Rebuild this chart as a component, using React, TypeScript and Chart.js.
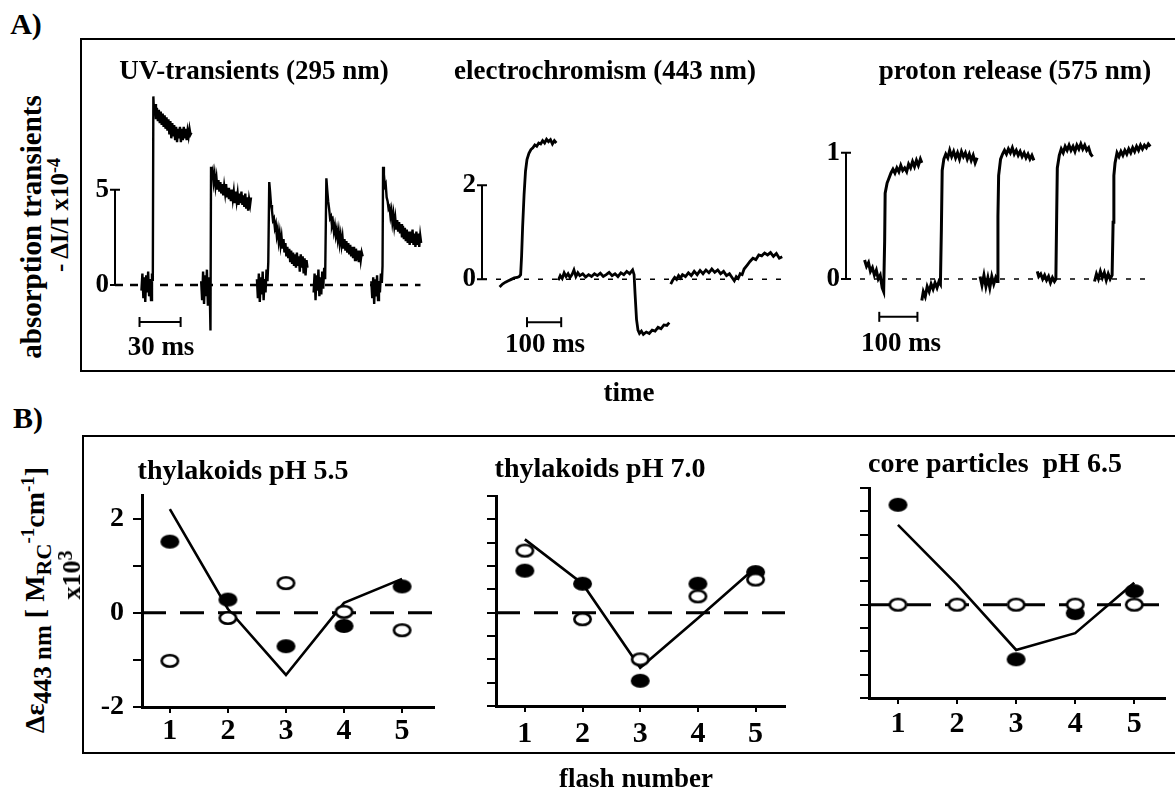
import React, { useEffect, useRef } from "react";
import { Chart, registerables } from "chart.js";
Chart.register(...registerables);

type P = [number, number];
const FONT = "'Liberation Serif', 'Times New Roman', Times, serif";

// ---------- Panel A1: UV-transients (295 nm), x in ms, y in -ΔI/I x10^-4 ----------
const uvFlash1: P[] = [
  [19.3,-0.3],[20.0,0.6],[20.7,-0.7],[21.4,0.4],[22.1,-0.9],[22.8,0.5],[23.5,-0.4],[24.2,0.7],[24.9,-0.6],[25.6,0.3],[26.3,-0.8],[27.0,0.6],[27.6,0.2],
  [28.0,9.9],[28.5,9.0],[29.2,9.5],[29.9,8.7],[30.6,9.3],[31.3,8.6],[32.0,9.2],[32.7,8.5],[33.4,9.1],[34.1,8.4],[34.8,9.0],[35.5,8.3],[36.2,8.9],[36.9,8.2],[37.6,8.8],[38.3,8.1],[39.0,8.7],[39.7,7.9],[40.4,8.6],[41.1,7.7],[41.8,8.5],[42.5,7.8],[43.2,8.4],[43.9,7.6],[44.6,8.3],[45.3,7.5],[46.0,8.2],[46.7,7.7],[47.4,8.3],[48.1,7.5],[48.8,8.2],[49.5,7.6],[50.2,8.3],[50.9,7.7],[51.6,8.2],[52.3,7.6],[53.0,8.1],[53.7,7.8],[54.4,8.2],[55.1,7.9],[55.8,8.0]
];
const uvFlash2: P[] = [
  [62.9,0.2],[63.6,-0.8],[64.3,0.7],[65.0,-1.0],[65.7,0.5],[66.4,-0.6],[67.1,0.8],[67.8,-1.1],[68.5,0.4],[69.2,-0.5],[69.7,-2.4],[70.1,6.2],
  [70.6,5.8],[71.3,6.0],[72.0,5.4],[72.7,5.8],[73.4,5.2],[74.1,5.6],[74.8,5.0],[75.5,5.5],[76.2,4.9],[76.9,5.4],[77.6,4.8],[78.3,5.3],[79.0,4.7],[79.7,5.2],[80.4,4.8],[81.1,5.3],[81.8,4.6],[82.5,5.1],[83.2,4.5],[83.9,5.0],[84.6,4.4],[85.3,5.0],[86.0,4.5],[86.7,4.9],[87.4,4.3],[88.1,4.9],[88.8,4.4],[89.5,4.8],[90.2,4.2],[90.9,4.8],[91.6,4.3],[92.3,4.9],[93.0,4.2],[93.7,4.7],[94.4,4.1],[95.1,4.8],[95.8,4.0],[96.5,4.6],[97.2,3.9],[97.9,4.5],[98.6,4.2],[99.3,4.6]
];
const uvFlash3: P[] = [
  [103.6,0.3],[104.3,-0.7],[105.0,0.6],[105.7,-0.9],[106.4,0.4],[107.1,-0.5],[107.8,0.7],[108.5,-0.8],[109.2,0.3],[109.9,-0.4],[110.6,0.8],[111.3,0.2],[111.9,1.2],
  [112.6,5.4],[113.2,4.9],[113.9,4.2],[114.6,3.9],[115.3,3.4],[116.0,3.5],[116.7,3.0],[117.4,3.2],[118.1,2.6],[118.8,2.9],[119.5,2.3],[120.2,2.7],[120.9,2.1],[121.6,2.5],[122.3,1.9],[123.0,2.4],[123.7,1.7],[124.4,2.2],[125.1,1.5],[125.8,2.0],[126.5,1.4],[127.2,1.9],[127.9,1.2],[128.6,1.8],[129.3,1.1],[130.0,1.7],[130.7,1.0],[131.4,1.6],[132.1,0.9],[132.8,1.7],[133.5,1.0],[134.2,1.5],[134.9,0.7],[135.6,1.6],[136.3,0.9],[137.0,1.5],[137.7,0.6],[138.4,1.4],[139.1,0.5],[139.8,1.3],[140.5,0.9]
];
const uvFlash4: P[] = [
  [145.0,-0.4],[145.7,0.6],[146.4,-0.8],[147.1,0.5],[147.8,-0.3],[148.5,0.8],[149.2,-0.6],[149.9,0.4],[150.6,-0.5],[151.3,0.7],[152.0,-0.2],[152.7,0.9],[153.4,0.3],
  [154.3,5.6],[154.9,5.0],[155.6,4.4],[156.3,4.0],[157.0,3.5],[157.7,3.6],[158.4,3.1],[159.1,3.3],[159.8,2.8],[160.5,3.1],[161.2,2.6],[161.9,2.9],[162.6,2.4],[163.3,2.8],[164.0,2.2],[164.7,2.6],[165.4,2.1],[166.1,2.5],[166.8,1.9],[167.5,2.4],[168.2,1.8],[168.9,2.3],[169.6,1.7],[170.3,2.2],[171.0,1.6],[171.7,2.1],[172.4,1.5],[173.1,2.0],[173.8,1.4],[174.5,2.0],[175.2,1.3],[175.9,1.9],[176.6,1.3],[177.3,1.8],[178.0,1.2],[178.7,1.8],[179.4,1.3],[180.1,1.7],[180.8,1.5]
];
const uvFlash5: P[] = [
  [187.1,0.2],[187.8,-0.7],[188.5,0.4],[189.2,-1.0],[189.9,0.3],[190.6,-0.6],[191.3,0.5],[192.0,-0.8],[192.7,0.2],[193.4,-0.4],[194.1,0.6],[194.8,0.1],[195.3,1.0],
  [195.7,6.2],[196.3,5.8],[197.0,5.2],[197.6,5.3],[198.3,4.6],[199.0,4.4],[199.7,4.0],[200.4,4.1],[201.1,3.6],[201.8,3.9],[202.5,3.3],[203.2,3.7],[203.9,3.1],[204.6,3.5],[205.3,2.9],[206.0,3.4],[206.7,2.8],[207.4,3.3],[208.1,2.7],[208.8,3.2],[209.5,2.5],[210.2,3.1],[210.9,2.4],[211.6,3.0],[212.3,2.3],[213.0,2.9],[213.7,2.2],[214.4,2.8],[215.1,2.1],[215.8,2.8],[216.5,2.2],[217.2,2.9],[217.9,2.1],[218.6,2.7],[219.3,2.0],[220.0,2.8],[220.7,2.1],[221.4,2.7],[222.1,2.0],[222.8,2.6],[223.5,2.2]
];
const uvZeroLine: P[] = [[0, 0], [223, 0]];
const uvScaleBar: P[] = [[17.9, -1.95], [47.9, -1.95]]; // 30 ms
const uvTicks = [0, 5];

// ---------- Panel A2: electrochromism (443 nm) ----------
const ecFlash1: P[] = [
  [51.4,-0.16],[60,-0.1],[68.6,-0.06],[77.1,-0.03],[85.7,0.0],[94.3,0.03],[102.9,0.04],[108.6,0.06],[112.9,0.1],[115.7,0.5],[118.6,1.1],[122.9,1.8],[127.1,2.3],[131.4,2.55],[137.1,2.68],[142.9,2.76],[148.6,2.8],[154.3,2.86],[160,2.83],[165.7,2.9],[171.4,2.88],[177.1,2.95],[182.9,2.9],[188.6,2.98],[194.3,2.93],[200,2.97],[205.7,2.88],[211.4,2.95],[217.1,2.9]
];
const ecFlash2: P[] = [
  [222.9,-0.02],[228.6,0.08],[234.3,0.02],[240,0.14],[245.7,0.06],[251.4,0.12],[257.1,0.04],[262.9,0.1],[268.6,0.2],[274.3,0.06],[280,0.14],[285.7,0.08],[294.3,0.12],[302.9,0.05],[311.4,0.1],[320,0.06],[328.6,0.12],[337.1,0.08],[345.7,0.13],[354.3,0.06],[362.9,0.1],[371.4,0.15],[380,0.08],[388.6,0.12],[397.1,0.06],[405.7,0.14],[414.3,0.1],[422.9,0.17],[431.4,0.12],[440,0.2],[444.3,0.1],
  [447.1,-0.3],[451.4,-0.85],[455.7,-1.08],[460,-1.15],[465.7,-1.1],[471.4,-1.17],[480,-1.12],[488.6,-1.15],[497.1,-1.08],[505.7,-1.1],[514.3,-1.02],[522.9,-1.05],[531.4,-0.97],[540,-0.98],[547.1,-0.92]
];
const ecFlash3: P[] = [
  [551.4,-0.1],[557.1,-0.02],[562.9,0.04],[568.6,0.0],[574.3,0.08],[580,0.03],[585.7,0.1],[594.3,0.06],[602.9,0.14],[611.4,0.08],[620,0.17],[628.6,0.1],[637.1,0.19],[645.7,0.12],[654.3,0.2],[662.9,0.14],[671.4,0.22],[680,0.15],[688.6,0.2],[697.1,0.12],[705.7,0.17],[714.3,0.08],[722.9,0.12],[731.4,0.03],[737.1,-0.03],[742.9,0.06],[748.6,0.02],[754.3,0.12],[760,0.1],[765.7,0.22],[774.3,0.3],[782.9,0.38],[791.4,0.45],[800,0.42],[808.6,0.52],[817.1,0.5],[825.7,0.56],[834.3,0.52],[842.9,0.57],[851.4,0.49],[860,0.55],[868.6,0.45],[877.1,0.48]
];
const ecZeroLine: P[] = [[0, 0], [880, 0]];
const ecScaleBar: P[] = [[131.4, -0.91], [231.4, -0.91]]; // 100 ms
const ecTicks = [0, 2];

// ---------- Panel A3: proton release (575 nm) ----------
const prFlash1: P[] = [
  [48.7,0.15],[53.8,0.1],[59,0.13],[64.1,0.06],[69.2,0.09],[74.4,0.03],[79.5,0.07],[84.6,0.0],[89.7,0.03],[94.9,-0.07],[98.7,-0.1],[101.3,0.3],[102.6,0.68],[107.7,0.76],[112.8,0.8],[117.9,0.84],[123.1,0.87],[128.2,0.84],[133.3,0.88],[138.5,0.85],[143.6,0.9],[148.7,0.86],[153.8,0.88],[159,0.85],[164.1,0.91],[169.2,0.88],[174.4,0.93],[179.5,0.89],[184.6,0.94],[189.7,0.9],[194.9,0.95],[198.7,0.92]
];
const prFlash2: P[] = [
  [198.7,-0.17],[202.6,-0.1],[207.7,-0.14],[212.8,-0.06],[217.9,-0.1],[223.1,-0.04],[228.2,-0.08],[233.3,-0.03],[238.5,-0.07],[243.6,-0.02],[247.4,-0.04],[250,0.4],[252.1,0.86],[256.4,0.95],[261.5,0.99],[266.7,0.96],[271.8,1.02],[276.9,0.97],[282.1,1.01],[287.2,0.96],[292.3,1.0],[297.4,0.95],[302.6,1.01],[307.7,0.97],[312.8,1.0],[317.9,0.95],[323.1,0.99],[328.2,0.94],[333.3,0.98],[338.5,0.92],[343.6,0.96]
];
const prFlash3: P[] = [
  [351.3,0.02],[356.4,-0.05],[361.5,0.03],[366.7,-0.06],[371.8,0.01],[376.9,-0.07],[382.1,0.02],[387.2,-0.04],[392.3,0.01],[396.2,-0.02],[398.2,0.5],[400,0.82],[405.1,0.95],[410.3,0.99],[415.4,1.02],[420.5,0.99],[425.6,1.03],[430.8,1.0],[435.9,1.04],[441,0.99],[446.2,1.02],[451.3,0.98],[456.4,1.01],[461.5,0.97],[466.7,1.0],[471.8,0.96],[476.9,0.99],[482.1,0.95],[487.2,0.98],[492.3,0.94]
];
const prFlash4: P[] = [
  [501.3,0.06],[505.1,0.02],[510.3,0.04],[515.4,0.0],[520.5,0.03],[525.6,-0.01],[530.8,0.02],[535.9,-0.03],[541,0.01],[546.2,-0.02],[550,0.0],[552.1,0.5],[553.8,0.88],[559,0.98],[564.1,1.03],[569.2,1.0],[574.4,1.05],[579.5,1.02],[584.6,1.06],[589.7,1.02],[594.9,1.05],[600,1.01],[605.1,1.06],[610.3,1.03],[615.4,1.07],[620.5,1.03],[625.6,1.06],[630.8,1.02],[635.9,1.04],[641,0.99],[646.2,0.97]
];
const prFlash5: P[] = [
  [651.3,-0.02],[656.4,0.04],[661.5,0.0],[666.7,0.06],[671.8,0.01],[676.9,0.05],[682.1,-0.01],[687.2,0.04],[692.3,0.0],[697.4,0.03],[700,0.45],[702,0.82],[705.1,0.92],[710.3,1.0],[715.4,0.97],[720.5,1.01],[725.6,0.98],[730.8,1.02],[735.9,0.99],[741,1.03],[746.2,1.0],[751.3,1.04],[756.4,1.01],[761.5,1.05],[766.7,1.02],[771.8,1.06],[776.9,1.03],[782.1,1.06],[787.2,1.04],[792.3,1.07],[797.4,1.05]
];
const prZeroLine: P[] = [[0, 0], [787, 0]];
const prScaleBar: P[] = [[87.2, -0.3], [187.2, -0.3]]; // 100 ms
const prTicks = [0, 1];

// ---------- Panel B: Δε443nm vs flash number ----------
const flashNumbers = [1, 2, 3, 4, 5];
const filled55 = [1.51, 0.28, -0.71, -0.28, 0.56];
const open55 = [-1.02, -0.11, 0.63, 0.02, -0.37];
const line55 = [2.2, 0.08, -1.32, 0.21, 0.72];
const filled70 = [0.9, 0.62, -1.46, 0.62, 0.87];
const open70 = [1.33, -0.14, -1.0, 0.35, 0.71];
const line70 = [1.57, 0.62, -1.18, -0.12, 0.97];
const filled65 = [2.14, null, -1.17, -0.18, 0.29];
const open65 = [0, 0, 0, 0, 0];
const line65 = [1.71, 0.43, -0.97, -0.61, 0.47];
const bYTicks = [-2, -1.5, -1, -0.5, 0, 0.5, 1, 1.5, 2, 2.5];
const bYLabels = ["-2", "", "", "", "0", "", "", "", "2", ""];

const toXY = (arr: P[]) => arr.map(([x, y]) => ({ x, y }));

function makeMarker(filled: boolean) {
  const c = document.createElement("canvas");
  c.width = 21; c.height = 16;
  const g = c.getContext("2d")!;
  g.beginPath();
  if (filled) {
    g.ellipse(10.5, 8, 9.5, 7, 0, 0, Math.PI * 2);
    g.fillStyle = "#000"; g.fill();
  } else {
    g.ellipse(10.5, 8, 8.2, 5.8, 0, 0, Math.PI * 2);
    g.fillStyle = "#fff"; g.fill();
    g.lineWidth = 2.6; g.strokeStyle = "#000"; g.stroke();
  }
  return c;
}

function axisBarPlugin(ticks: number[]) {
  return {
    id: "axisBar",
    afterDatasetsDraw(chart: any) {
      const { ctx, chartArea, scales } = chart;
      const y = scales.y;
      const x = chartArea.left;
      const top = y.getPixelForValue(Math.max(...ticks));
      const bot = y.getPixelForValue(Math.min(...ticks));
      ctx.save();
      ctx.strokeStyle = "#000";
      ctx.lineWidth = 2;
      ctx.beginPath();
      ctx.moveTo(x, top); ctx.lineTo(x, bot);
      for (const t of ticks) {
        const py = y.getPixelForValue(t);
        ctx.moveTo(x - 5, py); ctx.lineTo(x + 5, py);
      }
      ctx.stroke();
      ctx.restore();
    },
  };
}

function traceConfig(o: {
  segments: P[][]; zero: P[]; bar: P[]; ticks: number[]; xMax: number; yMin: number; yMax: number;
  dash: number[]; dashWidth: number; lineWidth: number;
}) {
  const datasets: any[] = [];
  o.segments.forEach((s) =>
    datasets.push({ data: toXY(s), showLine: true, borderColor: "#000", borderWidth: o.lineWidth, pointRadius: 0, order: 1 })
  );
  datasets.push({ data: toXY(o.zero), showLine: true, borderColor: "#000", borderWidth: o.dashWidth, borderDash: o.dash, pointRadius: 0, order: 3 });
  datasets.push({
    data: toXY(o.bar), showLine: true, borderColor: "#000", borderWidth: 2, pointStyle: "line",
    pointRadius: 5, pointRotation: 90, pointBorderWidth: 2, pointBorderColor: "#000", order: 2,
  });
  return {
    type: "scatter",
    data: { datasets },
    plugins: [axisBarPlugin(o.ticks)],
    options: {
      responsive: false, animation: false, devicePixelRatio: 1, events: [],
      layout: { padding: { top: 30, bottom: 30, left: 0, right: 0 } },
      plugins: { legend: { display: false }, tooltip: { enabled: false } },
      scales: {
        x: { type: "linear", min: 0, max: o.xMax, display: false },
        y: {
          type: "linear", min: o.yMin, max: o.yMax,
          grid: { display: false, drawTicks: false }, border: { display: false },
          afterBuildTicks: (s: any) => { s.ticks = o.ticks.map((v) => ({ value: v })); },
          afterFit: (s: any) => { s.width = 40; },
          ticks: { color: "#000", padding: 6, font: { family: FONT, size: 27, weight: "bold" }, callback: (v: any) => String(v) },
        },
      },
    },
  };
}

function flashConfig(o: { filled: (number | null)[]; open: number[]; line: number[]; xMin: number; xMax: number; labels: boolean; xPad: number }) {
  const fm = makeMarker(true);
  const om = makeMarker(false);
  return {
    type: "scatter",
    data: {
      datasets: [
        { data: flashNumbers.map((x, i) => ({ x, y: o.open[i] })), pointStyle: om, pointRadius: 8, order: 0 },
        { data: flashNumbers.map((x, i) => ({ x, y: o.filled[i] })), pointStyle: fm, pointRadius: 8, order: 1 },
        { data: flashNumbers.map((x, i) => ({ x, y: o.line[i] })), showLine: true, borderColor: "#000", borderWidth: 2.6, pointRadius: 0, order: 2 },
        { data: [{ x: o.xMin, y: 0 }, { x: o.xMax, y: 0 }], showLine: true, borderColor: "#000", borderWidth: 3, borderDash: [24, 14], pointRadius: 0, order: 3 },
      ],
    },
    options: {
      responsive: false, animation: false, devicePixelRatio: 1, events: [],
      layout: { padding: { top: 30, bottom: 0, left: 0, right: 6 } },
      plugins: { legend: { display: false }, tooltip: { enabled: false } },
      scales: {
        x: {
          type: "linear", min: o.xMin, max: o.xMax,
          afterBuildTicks: (s: any) => { s.ticks = flashNumbers.map((v) => ({ value: v })); },
          afterFit: (s: any) => { s.height = 50; },
          grid: { drawOnChartArea: false, drawTicks: true, tickLength: 6, color: "#000", lineWidth: 2 },
          border: { display: true, color: "#000", width: 3 },
          ticks: { color: "#000", padding: o.xPad, font: { family: FONT, size: 30, weight: "bold" }, callback: (v: any) => String(v) },
        },
        y: {
          type: "linear", min: -2, max: 2.5,
          afterBuildTicks: (s: any) => { s.ticks = bYTicks.map((v) => ({ value: v })); },
          afterFit: (s: any) => { s.width = 60; },
          grid: { drawOnChartArea: false, drawTicks: true, tickLength: 9, color: "#000", lineWidth: 2 },
          border: { display: true, color: "#000", width: 3 },
          ticks: {
            display: o.labels, color: "#000", padding: 9, font: { family: FONT, size: 28, weight: "bold" },
            callback: (_v: any, i: number) => bYLabels[i],
          },
        },
      },
    },
  };
}

function ChartBox({ left, top, width, height, make }: { left: number; top: number; width: number; height: number; make: () => any }) {
  const ref = useRef<HTMLCanvasElement>(null);
  useEffect(() => {
    const chart = new Chart(ref.current as HTMLCanvasElement, make());
    return () => chart.destroy();
  }, []);
  return <canvas ref={ref} width={width} height={height} style={{ position: "absolute", left, top, width, height }} />;
}

function Label({ x, y, size = 27, rotate = false, children }: { x: number; y: number; size?: number; rotate?: boolean; children: any }) {
  return (
    <div
      style={{
        position: "absolute", left: x, top: y,
        transform: `translate(-50%,-50%)${rotate ? " rotate(-90deg)" : ""}`,
        fontFamily: FONT, fontWeight: 700, fontSize: size, lineHeight: 1, whiteSpace: "nowrap", color: "#000",
      }}
    >
      {children}
    </div>
  );
}

const sub = (size: number, dy: number) => ({ fontSize: size, position: "relative" as const, top: dy });

export default function App() {
  useEffect(() => {
    document.body.style.margin = "0";
  }, []);
  return (
    <div style={{ position: "fixed", left: 0, top: 0, width: 1175, height: 789, background: "#fff", overflow: "hidden" }}>
      {/* boxes */}
      <div style={{ position: "absolute", left: 80, top: 38, width: 1200, height: 330, borderLeft: "2.5px solid #000", borderTop: "2px solid #000", borderBottom: "2.5px solid #000" }} />
      <div style={{ position: "absolute", left: 82, top: 435, width: 1200, height: 315, borderLeft: "2.5px solid #000", borderTop: "2.5px solid #000", borderBottom: "2.5px solid #000" }} />

      <ChartBox left={75} top={55} width={365} height={317} make={() => traceConfig({
        segments: [uvFlash1, uvFlash2, uvFlash3, uvFlash4, uvFlash5], zero: uvZeroLine, bar: uvScaleBar, ticks: uvTicks,
        xMax: 232.14, yMin: -3, yMax: 10.5, dash: [8, 7], dashWidth: 2.5, lineWidth: 2.4,
      })} />
      <ChartBox left={442} top={66} width={358} height={328} make={() => traceConfig({
        segments: [ecFlash1, ecFlash2, ecFlash3], zero: ecZeroLine, bar: ecScaleBar, ticks: ecTicks,
        xMax: 908.57, yMin: -1.8, yMax: 3.9, dash: [5, 9], dashWidth: 1.5, lineWidth: 2.8,
      })} />
      <ChartBox left={806} top={66} width={364} height={325} make={() => traceConfig({
        segments: [prFlash1, prFlash2, prFlash3, prFlash4, prFlash5], zero: prZeroLine, bar: prScaleBar, ticks: prTicks,
        xMax: 830.77, yMin: -0.65, yMax: 1.45, dash: [5, 9], dashWidth: 1.5, lineWidth: 3,
      })} />

      <ChartBox left={82} top={465} width={361} height={292} make={() => flashConfig({ filled: filled55, open: open55, line: line55, xMin: 0.52, xMax: 5.55, labels: true, xPad: 0 })} />
      <ChartBox left={436} top={466} width={358} height={290} make={() => flashConfig({ filled: filled70, open: open70, line: line70, xMin: 0.5, xMax: 5.51, labels: false, xPad: 4 })} />
      <ChartBox left={809} top={458} width={365} height={290} make={() => flashConfig({ filled: filled65, open: open65, line: line65, xMin: 0.51, xMax: 5.52, labels: false, xPad: 2 })} />

      {/* panel labels */}
      <Label x={26} y={24} size={30}>A)</Label>
      <Label x={28} y={418} size={30}>B)</Label>

      {/* titles */}
      <Label x={254} y={70} size={27}>UV-transients (295 nm)</Label>
      <Label x={605} y={70} size={27}>electrochromism (443 nm)</Label>
      <Label x={1015} y={70} size={27}>proton release (575 nm)</Label>
      <Label x={243} y={470} size={28}>thylakoids pH 5.5</Label>
      <Label x={600} y={468} size={28}>thylakoids pH 7.0</Label>
      <Label x={995} y={463} size={28}>core particles&nbsp; pH 6.5</Label>

      {/* scale bar labels */}
      <Label x={161} y={346} size={27}>30 ms</Label>
      <Label x={545} y={343} size={27}>100 ms</Label>
      <Label x={901} y={342} size={27}>100 ms</Label>

      {/* axis titles */}
      <Label x={629} y={392} size={27}>time</Label>
      <Label x={636} y={778} size={27}>flash number</Label>
      <Label x={31} y={227} size={29} rotate>absorption transients</Label>
      <Label x={59} y={215} size={25} rotate>
        <span>- ΔI/I x10</span><span style={sub(18, -8)}>-4</span>
      </Label>
      <Label x={35} y={600} size={28} rotate>
        <span>Δε</span>
        <span style={sub(25, 7)}>443 nm</span>
        <span>&nbsp;[ M</span>
        <span style={sub(22, 7)}>RC</span>
        <span style={sub(19, -10)}>-1</span>
        <span>cm</span>
        <span style={sub(19, -10)}>-1</span>
        <span>]</span>
      </Label>
      <Label x={72} y={575} size={26} rotate>
        <span>x10</span><span style={sub(20, -8)}>3</span>
      </Label>
    </div>
  );
}
